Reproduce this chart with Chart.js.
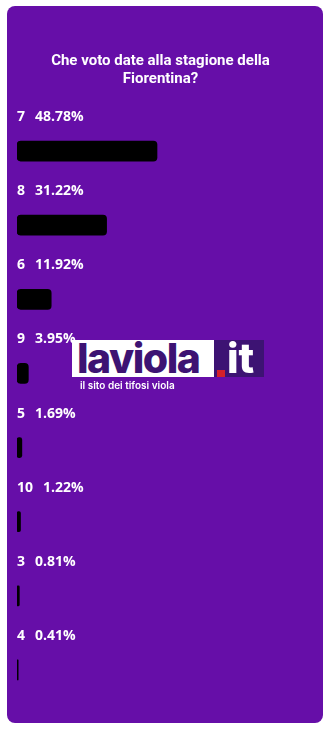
<!DOCTYPE html>
<html>
<head>
    <title>Sondaggio Fiorentina</title>
    <script src="https://cdn.jsdelivr.net/npm/chart.js"></script>
    <style>
        body {
            margin: 0;
            padding: 0;
            background: #ffffff;
            width: 333px;
            height: 733px;
            overflow: hidden;
            position: relative;
        }
        #card {
            position: absolute;
            left: 7px;
            top: 6px;
            width: 316px;
            height: 717px;
            background-color: #660ea8;
            border-radius: 8px;
            overflow: hidden;
        }
        #chart {
            position: absolute;
            left: 0;
            top: 0;
        }
        #logo {
            position: absolute;
            left: 65px;
            top: 334px;
            font-family: 'Inter', 'Roboto', sans-serif;
        }
        #logo .box {
            display: flex;
            height: 37px;
        }
        #logo .main {
            background: #ffffff;
            color: #3d1373;
            font-weight: 800;
            font-size: 41px;
            line-height: 37px;
            width: 142px;
            letter-spacing: -1.5px;
            padding-left: 5px;
            box-sizing: border-box;
            overflow: hidden;
        }
        #logo .tld {
            background: #3d1373;
            color: #ffffff;
            font-weight: 800;
            font-size: 41px;
            line-height: 37px;
            width: 50px;
            position: relative;
            padding-left: 13px;
            box-sizing: border-box;
        }
        #logo .dot {
            position: absolute;
            left: 3px;
            bottom: 0;
            width: 8px;
            height: 7px;
            background: #d4202a;
        }
        #logo .tag {
            color: #ffffff;
            font-size: 10px;
            font-weight: 600;
            margin-top: 2px;
            padding-left: 8px;
        }
    </style>
</head>
<body>
    <div id="card">
        <canvas id="chart" width="316" height="717"></canvas>
        <div id="logo">
            <div class="box">
                <div class="main">laviola</div>
                <div class="tld"><span class="dot"></span>it</div>
            </div>
            <div class="tag">il sito dei tifosi viola</div>
        </div>
    </div>

    <script>
        const votes = ['7', '8', '6', '9', '5', '10', '3', '4'];
        const percentages = [48.78, 31.22, 11.92, 3.95, 1.69, 1.22, 0.81, 0.41];
        const titleLines = ['Che voto date alla stagione della', 'Fiorentina?'];

        // scrive "voto  percentuale" sopra ogni barra
        const barLabels = {
            id: 'barLabels',
            afterDatasetsDraw(chart) {
                const ctx = chart.ctx;
                const meta = chart.getDatasetMeta(0);
                ctx.save();
                ctx.fillStyle = '#ffffff';
                ctx.font = 'bold 14px "Open Sans", sans-serif';
                ctx.textBaseline = 'middle';
                ctx.textAlign = 'left';
                meta.data.forEach((bar, i) => {
                    const x = chart.chartArea.left;
                    const y = bar.y - 34;
                    ctx.fillText(votes[i], x, y);
                    const w = ctx.measureText(votes[i]).width;
                    ctx.fillText(percentages[i].toFixed(2) + '%', x + w + 10, y);
                });
                ctx.restore();
            }
        };

        const ctx = document.getElementById('chart').getContext('2d');
        new Chart(ctx, {
            type: 'bar',
            data: {
                labels: votes,
                datasets: [{
                    data: percentages,
                    backgroundColor: '#000000',
                    barThickness: 20,
                    borderRadius: 4,
                    borderSkipped: false
                }]
            },
            options: {
                indexAxis: 'y',
                responsive: false,
                animation: false,
                layout: {
                    padding: { left: 10, right: 19, top: 0, bottom: 16 }
                },
                plugins: {
                    legend: { display: false },
                    tooltip: { enabled: false },
                    title: {
                        display: true,
                        text: titleLines,
                        color: '#ffffff',
                        font: { family: 'Roboto', size: 15, weight: 'bold', lineHeight: 1.2 },
                        padding: { top: 46, bottom: 26 }
                    }
                },
                scales: {
                    x: { display: false, min: 0, max: 100 },
                    y: { display: false }
                }
            },
            plugins: [barLabels]
        });
    </script>
</body>
</html>
